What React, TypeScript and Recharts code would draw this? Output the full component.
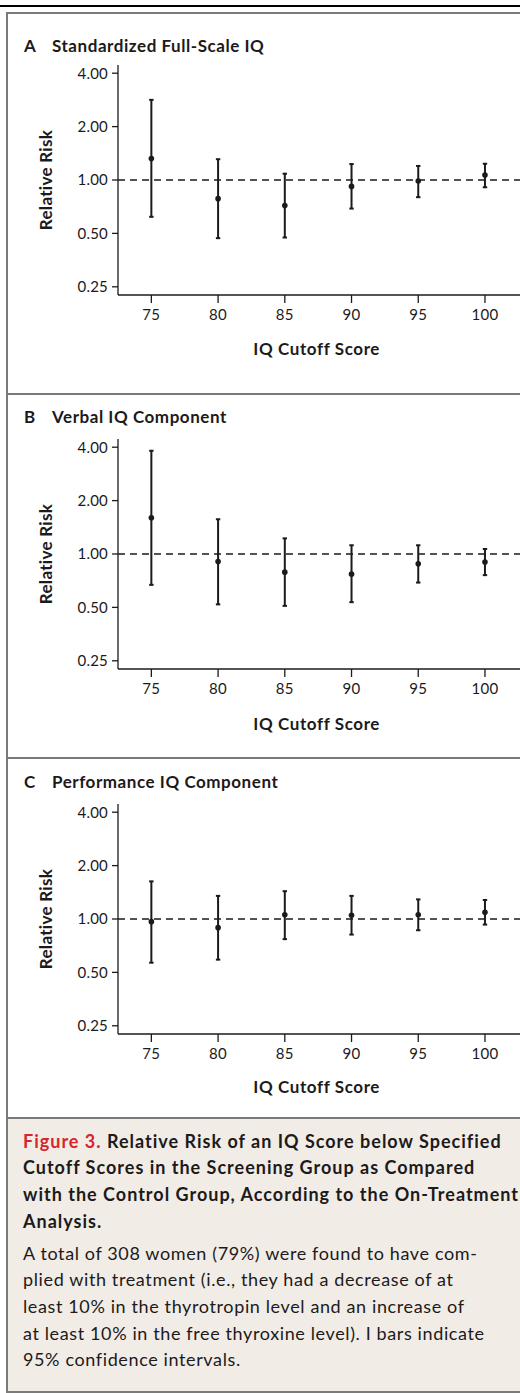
import React from 'react';
import { ScatterChart, Scatter, XAxis, YAxis, ErrorBar, ReferenceLine } from 'recharts';

const cutoffs = [75, 80, 85, 90, 95, 100];
const xTicks = [75, 80, 85, 90, 95, 100];
const yTicks = [0.25, 0.5, 1, 2, 4];

const fullScaleRR = [1.32, 0.785, 0.717, 0.92, 0.987, 1.067];
const fullScaleLow = [0.62, 0.47, 0.474, 0.69, 0.8, 0.91];
const fullScaleHigh = [2.83, 1.31, 1.085, 1.23, 1.2, 1.235];

const verbalRR = [1.6, 0.906, 0.79, 0.77, 0.88, 0.9];
const verbalLow = [0.67, 0.52, 0.51, 0.535, 0.69, 0.76];
const verbalHigh = [3.82, 1.57, 1.225, 1.12, 1.12, 1.067];

const perfRR = [0.966, 0.894, 1.057, 1.05, 1.057, 1.09];
const perfLow = [0.567, 0.59, 0.77, 0.817, 0.864, 0.93];
const perfHigh = [1.63, 1.35, 1.435, 1.35, 1.29, 1.28];

const FONT = 'Lato, "Open Sans", sans-serif';
const INK = '#1c1a1a';
const GRAY = '#7a7a7a';

const Dot = (p: any) => <circle cx={p.cx} cy={p.cy} r={2.8} fill={INK} />;

function Panel({ plotTop, rr, low, high }: { plotTop: number; rr: number[]; low: number[]; high: number[] }) {
  const data = cutoffs.map((x, i) => ({ x, y: rr[i], err: [rr[i] - low[i], high[i] - rr[i]] }));
  const axisStyle = { stroke: INK, strokeWidth: 1.3 };
  return (
    <div style={{ position: 'absolute', left: 0, top: plotTop - 10 }}>
      <ScatterChart width={525} height={280} margin={{ top: 10, right: 0, bottom: 0, left: 0 }}>
        <XAxis
          type="number"
          dataKey="x"
          domain={[72.5, 103]}
          ticks={xTicks}
          interval={0}
          allowDataOverflow
          height={40}
          tickSize={8}
          tickMargin={6}
          axisLine={axisStyle}
          tickLine={axisStyle}
          tick={{ fill: INK, fontSize: 15, fontFamily: FONT, letterSpacing: 0.3 }}
        />
        <YAxis
          type="number"
          dataKey="y"
          scale="log"
          domain={[0.2247, 4.45]}
          ticks={yTicks}
          interval={0}
          allowDataOverflow
          width={118}
          tickSize={6}
          tickMargin={4}
          tickFormatter={(v: number) => v.toFixed(2)}
          axisLine={axisStyle}
          tickLine={axisStyle}
          tick={{ fill: INK, fontSize: 15, fontFamily: FONT, letterSpacing: 0.2 }}
        />
        <ReferenceLine y={1} stroke={INK} strokeDasharray="7 5" strokeWidth={1.3} />
        <Scatter data={data} isAnimationActive={false} shape={Dot}>
          <ErrorBar dataKey="err" direction="y" width={2.2} strokeWidth={2} stroke={INK} isAnimationActive={false} />
        </Scatter>
      </ScatterChart>
    </div>
  );
}

function PanelTitle({ top, letter, text }: { top: number; letter: string; text: string }) {
  const base: React.CSSProperties = { position: 'absolute', top, fontSize: 17, lineHeight: '17px', fontWeight: 700, color: INK, whiteSpace: 'nowrap', fontFamily: FONT, letterSpacing: 0.55 };
  return (
    <>
      <div style={{ ...base, left: 24 }}>{letter}</div>
      <div style={{ ...base, left: 52 }}>{text}</div>
    </>
  );
}

function XLabel({ cy }: { cy: number }) {
  return (
    <div style={{ position: 'absolute', left: 216.7, width: 200, top: cy - 9, textAlign: 'center', fontSize: 17, lineHeight: '17px', fontWeight: 700, color: INK, fontFamily: FONT, whiteSpace: 'nowrap', letterSpacing: 0.6 }}>
      IQ Cutoff Score
    </div>
  );
}

function YLabel({ cy }: { cy: number }) {
  return (
    <div style={{ position: 'absolute', left: 45.5 - 100, width: 200, top: cy - 10, height: 20, lineHeight: '20px', textAlign: 'center', fontSize: 17, fontWeight: 700, color: INK, fontFamily: FONT, transform: 'rotate(-90deg)', whiteSpace: 'nowrap', letterSpacing: 0.3 }}>
      Relative Risk
    </div>
  );
}

export default function App() {
  return (
    <div style={{ position: 'absolute', left: 0, top: 0, width: 520, height: 1393, overflow: 'hidden', background: '#fff', fontFamily: FONT }}>
      <div style={{ position: 'absolute', left: 0, top: 5, width: 520, height: 2, background: '#000' }} />
      <div style={{ position: 'absolute', left: 6, top: 12, width: 600, height: 1381, boxSizing: 'border-box', border: `2px solid ${GRAY}` }} />
      <div style={{ position: 'absolute', left: 6, top: 393, width: 600, height: 2, background: GRAY }} />
      <div style={{ position: 'absolute', left: 6, top: 757, width: 600, height: 2, background: GRAY }} />
      <div style={{ position: 'absolute', left: 8, top: 1117, width: 600, height: 274, background: '#f2ece7', borderTop: `2px solid ${GRAY}`, boxSizing: 'border-box' }} />

      <PanelTitle top={36.5} letter="A" text="Standardized Full-Scale IQ" />
      <Panel plotTop={65} rr={fullScaleRR} low={fullScaleLow} high={fullScaleHigh} />
      <YLabel cy={180} />
      <XLabel cy={348.5} />

      <PanelTitle top={407.5} letter="B" text="Verbal IQ Component" />
      <Panel plotTop={438.5} rr={verbalRR} low={verbalLow} high={verbalHigh} />
      <YLabel cy={553.5} />
      <XLabel cy={723.5} />

      <PanelTitle top={772.5} letter="C" text="Performance IQ Component" />
      <Panel plotTop={804} rr={perfRR} low={perfLow} high={perfHigh} />
      <YLabel cy={919} />
      <XLabel cy={1086.5} />

      <div style={{ position: 'absolute', left: 23, top: 1127.8, fontSize: 18, lineHeight: '26.67px', fontWeight: 700, color: INK, whiteSpace: 'nowrap', fontFamily: FONT, letterSpacing: 1.0 }}>
        <span style={{ color: '#d6262d' }}>Figure 3.</span> Relative Risk of an IQ Score below Specified<br />
        Cutoff Scores in the Screening Group as Compared<br />
        with the Control Group, According to the On-Treatment<br />
        Analysis.
      </div>
      <div style={{ position: 'absolute', left: 23, top: 1239.5, fontSize: 18, lineHeight: '26.67px', fontWeight: 400, color: INK, whiteSpace: 'nowrap', fontFamily: FONT, letterSpacing: 0.62 }}>
        A total of 308 women (79%) were found to have com-<br />
        plied with treatment (i.e., they had a decrease of at<br />
        least 10% in the thyrotropin level and an increase of<br />
        at least 10% in the free thyroxine level). I bars indicate<br />
        95% confidence intervals.
      </div>
    </div>
  );
}
